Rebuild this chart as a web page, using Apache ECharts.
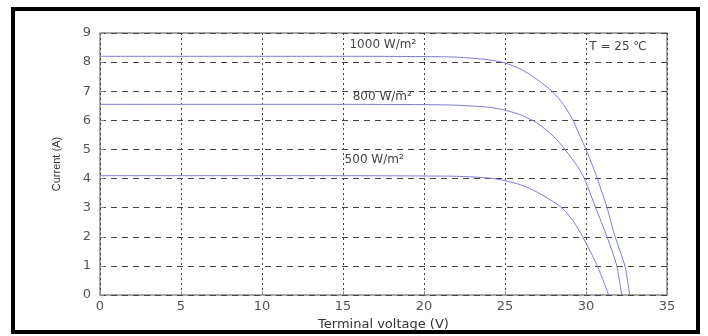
<!DOCTYPE html>
<html>
<head>
<meta charset="utf-8">
<script src="https://cdn.jsdelivr.net/npm/echarts@6/dist/echarts.min.js"></script>
<style>
  html, body { margin: 0; padding: 0; background: #fff; }
  #chart { width: 708px; height: 336px; }
</style>
</head>
<body>
<div id="chart"></div>
<script>
// I-V curves (voltage V, current A)
var v1000 = [0, 5, 10, 15, 20, 22, 24, 25, 26, 27, 27.9, 28.6, 29.2, 29.6, 30.0, 30.4, 30.7, 31.3, 31.8, 32.4, 32.7];
var i1000 = [8.2, 8.2, 8.2, 8.2, 8.19, 8.17, 8.08, 7.97, 7.75, 7.4, 7.0, 6.55, 6.0, 5.5, 5.0, 4.45, 4.0, 3.0, 2.0, 1.0, 0];

var v800 = [0, 5, 10, 15, 20, 22, 24, 25, 26, 27, 28, 28.7, 29.5, 29.9, 30.6, 31.3, 31.9, 32.2];
var i800 = [6.55, 6.55, 6.55, 6.55, 6.54, 6.52, 6.45, 6.35, 6.18, 5.9, 5.45, 5.0, 4.4, 4.0, 3.0, 2.0, 1.0, 0];

var v500 = [0, 5, 10, 15, 20, 22, 24, 25, 26, 27, 28, 28.6, 29.2, 29.8, 30.7, 31.4];
var i500 = [4.1, 4.1, 4.1, 4.1, 4.09, 4.08, 4.02, 3.93, 3.78, 3.53, 3.2, 2.95, 2.55, 2.0, 1.0, 0];

// annotations: text, voltage, current
var labelNames = ['1000 W/m\u00b2', '800 W/m\u00b2', '500 W/m\u00b2', 'T = 25 \u2103'];
var labelV = [15.4, 15.6, 15.1, 30.2];
var labelI = [8.6, 6.8, 4.65, 8.53];

function pairs(xs, ys) {
    return xs.map(function (x, k) { return [x, ys[k]]; });
}

var lineColor = '#7b7bd6';
var textFont = '"DejaVu Sans", Verdana, sans-serif';

function curve(name, xs, ys) {
    return {
        name: name,
        type: 'line',
        data: pairs(xs, ys),
        smooth: 0.25,
        showSymbol: false,
        lineStyle: { color: lineColor, width: 1 },
        z: 3
    };
}

var notes = labelNames.map(function (t, k) {
    return {
        coord: [labelV[k], labelI[k]],
        value: t
    };
});

var myChart = echarts.init(document.getElementById('chart'));

var option = {
    animation: false,
    backgroundColor: '#fff',
    textStyle: { fontFamily: textFont },
    grid: {
        left: 100,
        right: 41,
        top: 33,
        bottom: 40,
        show: true,
        borderColor: '#8a8a8a',
        borderWidth: 1.5
    },
    xAxis: {
        type: 'value',
        min: 0,
        max: 35,
        interval: 5,
        name: 'Terminal voltage (V)',
        nameLocation: 'middle',
        nameGap: 20,
        nameTextStyle: { color: '#333', fontSize: 13, fontFamily: textFont },
        axisLine: { show: false },
        axisTick: { inside: true, length: 4, lineStyle: { color: '#8a8a8a' } },
        axisLabel: { color: '#555', fontSize: 13, margin: 5 },
        splitLine: { lineStyle: { color: '#444', type: [2, 3], width: 1 } }
    },
    yAxis: {
        type: 'value',
        min: 0,
        max: 9,
        interval: 1,
        name: 'Current (A)',
        nameLocation: 'middle',
        nameGap: 38,
        nameTextStyle: { color: '#333', fontSize: 11, fontFamily: '"Liberation Sans Narrow", "Liberation Sans", sans-serif' },
        axisLine: { show: false },
        axisTick: { inside: true, length: 4, lineStyle: { color: '#8a8a8a' } },
        axisLabel: { color: '#555', fontSize: 13, margin: 9 },
        splitLine: { lineStyle: { color: '#444', type: [6, 5], width: 1 } }
    },
    graphic: [{
        type: 'rect',
        shape: { x: 13, y: 9, width: 685, height: 323 },
        style: { fill: 'none', stroke: '#000', lineWidth: 4 },
        z: 10
    }],
    series: [
        curve('1000', v1000, i1000),
        curve('800', v800, i800),
        curve('500', v500, i500),
        {
            type: 'scatter',
            data: [],
            silent: true,
            markPoint: {
                symbol: 'circle',
                symbolSize: 0,
                data: notes,
                label: {
                    show: true,
                    position: 'right',
                    distance: 0,
                    color: '#444',
                    fontSize: 12,
                    fontFamily: textFont,
                    formatter: function (p) { return p.value; }
                }
            }
        }
    ]
};

myChart.setOption(option);
</script>
</body>
</html>
